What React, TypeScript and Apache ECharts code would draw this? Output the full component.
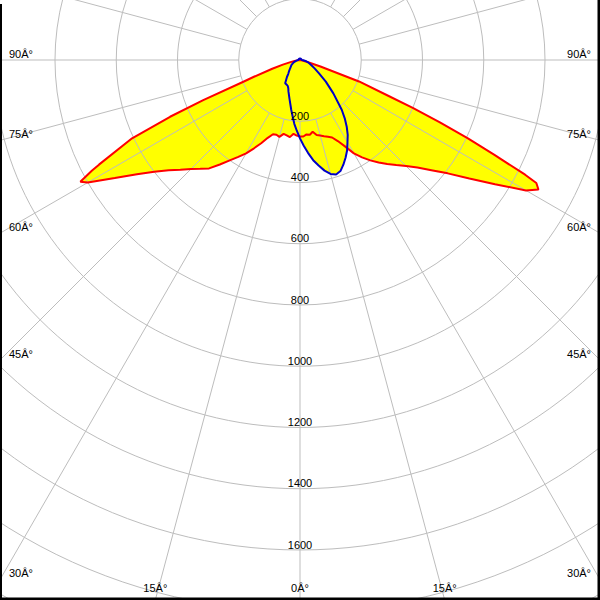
import React, { useEffect, useRef } from "react";
import * as echarts from "echarts";

// Radius ticks (cd) that carry a label, and the angle tick labels (as printed in the source)
const radiusTicks = [200, 400, 600, 800, 1000, 1200, 1400, 1600];
const angleTickAngles = [0, 15, 30, 45, 60, 75, 90];
const angleTickLabels = ["0Â°", "15Â°", "30Â°", "45Â°", "60Â°", "75Â°", "90Â°"];

// [gamma (deg from nadir), intensity (cd)] — red plane, right half
const redRight: [number, number][] = [
  [0, 250], [2.5, 250], [5, 244], [7.5, 246], [10, 238], [12.5, 251], [15, 255],
  [17.5, 261], [20, 267], [22.5, 274], [25, 292], [27.5, 318], [30, 352],
  [32.5, 377], [35, 400], [37.5, 422], [40, 443], [42.5, 465], [45, 490],
  [47.5, 520], [50, 560], [52.5, 608], [55, 675], [57.5, 755], [60, 852],
  [61.5, 886], [62.5, 870], [63, 825], [64, 705], [65, 605], [66, 500],
  [67, 400], [68, 305], [70, 205], [72.5, 70], [75, 25], [80, 8], [90, 0],
  [180, 0],
];
// red plane, left half
const redLeft: [number, number][] = [
  [0, 250], [2.5, 247], [5, 242], [7.5, 254], [10, 250], [12.5, 247], [15, 260],
  [17.5, 256], [20, 258], [22.5, 275], [25, 300], [27.5, 325], [30, 352],
  [32.5, 375], [35, 400], [37.5, 430], [40, 462], [42.5, 482], [45, 503],
  [47.5, 530], [50, 560], [52.5, 600], [55, 650], [57.5, 717], [60, 800],
  [61, 820], [62, 770], [62.5, 740], [65, 605], [66.4, 463], [67.5, 342],
  [69, 198], [70, 160], [72.5, 95], [75, 58], [77.5, 32], [80, 18], [85, 5],
  [90, 0], [180, 0],
];
// blue plane, right half
const blueRight: [number, number][] = [
  [0, 256], [2.5, 280], [5, 305], [7.5, 330], [10, 350], [12.5, 370], [15, 385],
  [17.5, 392], [20, 386], [22.5, 370], [25, 352], [27.5, 333], [30, 310],
  [32.5, 290], [35, 266], [37.5, 240], [40, 212], [45, 154], [50, 110],
  [55, 75], [60, 55], [65, 42], [70, 33], [75, 26], [80, 18], [85, 11],
  [90, 6], [120, 5], [150, 5], [180, 5],
];
// blue plane, left half
const blueLeft: [number, number][] = [
  [0, 256], [2.5, 232], [5, 210], [7.5, 185], [10, 165], [15, 132], [20, 110],
  [22.5, 100], [25, 94], [27.5, 92], [32.5, 90], [37.5, 70], [40, 60],
  [45, 50], [50, 42], [60, 32], [70, 22], [80, 12], [90, 6], [120, 5],
  [150, 5], [180, 5],
];

const CX = 300;
const CY = 60;
const R_MAX = 2000;
const R_PX = 612.5;

function toPolar(right: [number, number][], left: [number, number][]) {
  const a = right.map(([g, v]) => [v, g]);
  const b = left
    .slice()
    .reverse()
    .map(([g, v]) => [v, 360 - g]);
  return a.concat(b);
}

const FONT = '11px "Liberation Sans", Arial, sans-serif';

export default function App() {
  const ref = useRef<HTMLDivElement>(null);

  useEffect(() => {
    if (!ref.current) return;
    const chart = echarts.init(ref.current, null, { renderer: "svg" });

    const redData = toPolar(redRight, redLeft);
    const blueData = toPolar(blueRight, blueLeft);

    const graphics: any[] = [];
    const deg = Math.PI / 180;
    angleTickAngles.forEach((a, i) => {
      const label = angleTickLabels[i];
      if (a >= 30) {
        const yLine = a === 90 ? CY : CY + CX / Math.tan(a * deg);
        const y = yLine - 6.5;
        graphics.push({
          type: "text", z: 20,
          style: { text: label, x: 9, y, font: FONT, fill: "#000", align: "left", verticalAlign: "middle", textAlign: "left", textVerticalAlign: "middle" },
        });
        graphics.push({
          type: "text", z: 20,
          style: { text: label, x: 591, y, font: FONT, fill: "#000", align: "right", verticalAlign: "middle", textAlign: "right", textVerticalAlign: "middle" },
        });
      } else {
        const dx = (600 - CY) * Math.tan(a * deg);
        const xs = a === 0 ? [CX] : [CX - dx, CX + dx];
        xs.forEach((x) => {
          graphics.push({
            type: "text", z: 20,
            style: { text: label, x, y: 588, font: FONT, fill: "#000", align: "center", verticalAlign: "middle", textAlign: "center", textVerticalAlign: "middle" },
          });
        });
      }
    });
    // frame
    graphics.push({ type: "rect", z: 30, shape: { x: 0, y: 4, width: 2, height: 596 }, style: { fill: "#000" } });
    graphics.push({ type: "rect", z: 30, shape: { x: 597.5, y: 0, width: 2.5, height: 600 }, style: { fill: "#000" } });
    graphics.push({ type: "rect", z: 30, shape: { x: 0, y: 597.5, width: 600, height: 2.5 }, style: { fill: "#000" } });

    const hidden = { show: false };
    const option: any = {
      animation: false,
      backgroundColor: "#fff",
      polar: [
        { center: [CX, CY], radius: R_PX },
        { center: [CX, CY], radius: [R_PX * 200 / R_MAX, R_PX] },
        { center: [CX, CY], radius: R_PX },
      ],
      angleAxis: [
        { polarIndex: 0, type: "value", min: 0, max: 360, interval: 15, startAngle: -90, clockwise: false, axisLine: hidden, axisTick: hidden, axisLabel: hidden, splitLine: hidden },
        { polarIndex: 1, type: "value", min: 0, max: 360, interval: 15, startAngle: -90, clockwise: false, z: 2, axisLine: hidden, axisTick: hidden, axisLabel: hidden, splitLine: { show: true, lineStyle: { color: "#bdbdbd", width: 1 } } },
        { polarIndex: 2, type: "value", min: 0, max: 360, interval: 15, startAngle: -90, clockwise: false, axisLine: hidden, axisTick: hidden, axisLabel: hidden, splitLine: hidden },
      ],
      radiusAxis: [
        { polarIndex: 0, type: "value", min: 0, max: R_MAX, interval: 200, z: 2, axisLine: hidden, axisTick: hidden, axisLabel: hidden, splitLine: { show: true, lineStyle: { color: "#bdbdbd", width: 1 } } },
        { polarIndex: 1, type: "value", min: 0, max: R_MAX, interval: 200, axisLine: hidden, axisTick: hidden, axisLabel: hidden, splitLine: hidden },
        {
          polarIndex: 2, type: "value", min: 0, max: R_MAX, interval: 200, z: 10,
          axisLine: hidden, axisTick: hidden, splitLine: hidden,
          axisLabel: {
            show: true, margin: 0, align: "center", verticalAlign: "bottom",
            color: "#000", fontFamily: '"Liberation Sans", Arial, sans-serif', fontSize: 11,
            formatter: (v: number) => (radiusTicks.includes(v) ? String(v) : ""),
          },
        },
      ],
      series: [
        { type: "line", coordinateSystem: "polar", polarIndex: 0, data: redData, symbol: "none", silent: true, z: 1, lineStyle: { opacity: 0, width: 0 }, areaStyle: { color: "#ffff00", opacity: 1 } },
        { type: "line", coordinateSystem: "polar", polarIndex: 0, data: blueData, symbol: "none", silent: true, z: 1, lineStyle: { opacity: 0, width: 0 }, areaStyle: { color: "#ffff00", opacity: 1 } },
        { type: "line", coordinateSystem: "polar", polarIndex: 0, data: redData, symbol: "none", silent: true, z: 3, lineStyle: { color: "#ff0000", width: 2 } },
        { type: "line", coordinateSystem: "polar", polarIndex: 0, data: blueData, symbol: "none", silent: true, z: 4, lineStyle: { color: "#0000c8", width: 2 } },
      ],
      graphic: graphics,
    };

    chart.setOption(option);
    return () => chart.dispose();
  }, []);

  return (
    <div
      ref={ref}
      style={{ position: "absolute", left: 0, top: 0, width: 600, height: 600 }}
    />
  );
}
